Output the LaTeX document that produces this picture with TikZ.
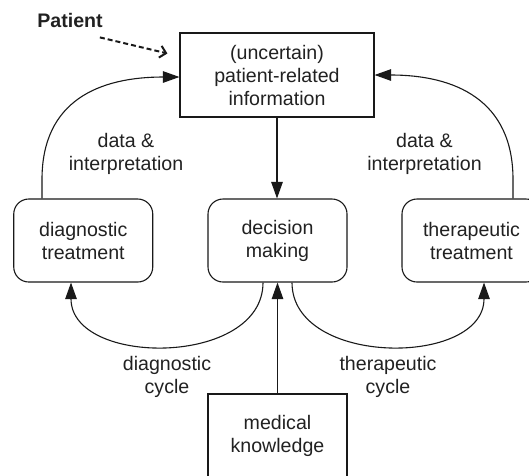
\documentclass[tikz,border=0pt]{standalone}
\usepackage{fontspec}
\setmainfont{Liberation Sans}
\usetikzlibrary{arrows.meta}

\begin{document}
\begin{tikzpicture}[x=1pt,y=-1pt,
  txt/.style={font=\fontsize{19.6}{23}\selectfont, text=black!87, align=center},
  sqbox/.style={txt, draw=black!90, line width=1.1pt, inner sep=0pt},
  rndbox/.style={sqbox, rounded corners=15pt, minimum width=139pt, minimum height=83pt},
  arr/.style={draw=black!90, line width=1.1pt, -{Triangle[length=16.5pt,width=11.5pt]}},
  dasharr/.style={draw=black!90, line width=2pt, dash pattern=on 5pt off 3pt,
                  -{Straight Barb[length=6pt,width=12pt,line width=2pt]}}
]
\useasboundingbox (0,0) rectangle (529,475);
\clip (0,0) rectangle (529,475);

% boxes
\node[sqbox, minimum width=194pt, minimum height=84pt] (info) at (277,75)
  {(uncertain)\\patient-related\\information};
\node[rndbox] (diag) at (83.25,240.5) {diagnostic\\treatment};
\node[rndbox] (dec)  at (277.5,240.5) {decision\\making};
\node[rndbox] (ther) at (471.5,240.5) {therapeutic\\treatment};
\node[sqbox, minimum width=139pt, minimum height=84pt] (med) at (277.5,436)
  {medical\\knowledge};

% free labels
\node[txt, font=\fontsize{19.6}{23}\selectfont\bfseries, inner sep=0pt] (patient) at (70,20) {Patient};
\node[txt] (ldata) at (126,154) {data \&\\interpretation};
\node[txt] (rdata) at (424.5,154) {data \&\\interpretation};
\node[txt] (dcyc) at (167,377) {diagnostic\\cycle};
\node[txt] (tcyc) at (388,377) {therapeutic\\cycle};

% patient input
\draw[dasharr] ([xshift=-3pt,yshift=-10pt]patient.south east)
  -- ([xshift=-12pt,yshift=-21pt]info.north west);

% information flow
\draw[arr] (info.south) -- (info.south |- dec.north);
\draw[arr] (med.north) -- (dec.south);

% feedback from the treatments
\draw[arr] ([xshift=-41.25pt]diag.north) -- ++(0,-19)
  .. controls (42,100) and (100,77) .. ([yshift=-2pt]info.west);
\draw[arr] ([xshift=41.5pt]ther.north) -- ++(0,-19)
  .. controls (513,100) and (455,75) .. (info.east);

% diagnostic and therapeutic cycles
\draw[arr] ([xshift=-14.5pt]dec.south)
  .. controls (263,367) and (71,367) .. ([xshift=-12.25pt]diag.south);
\draw[arr] ([xshift=14.5pt]dec.south)
  .. controls (292,367) and (484,367) .. ([xshift=12.5pt]ther.south);
\end{tikzpicture}
\end{document}
